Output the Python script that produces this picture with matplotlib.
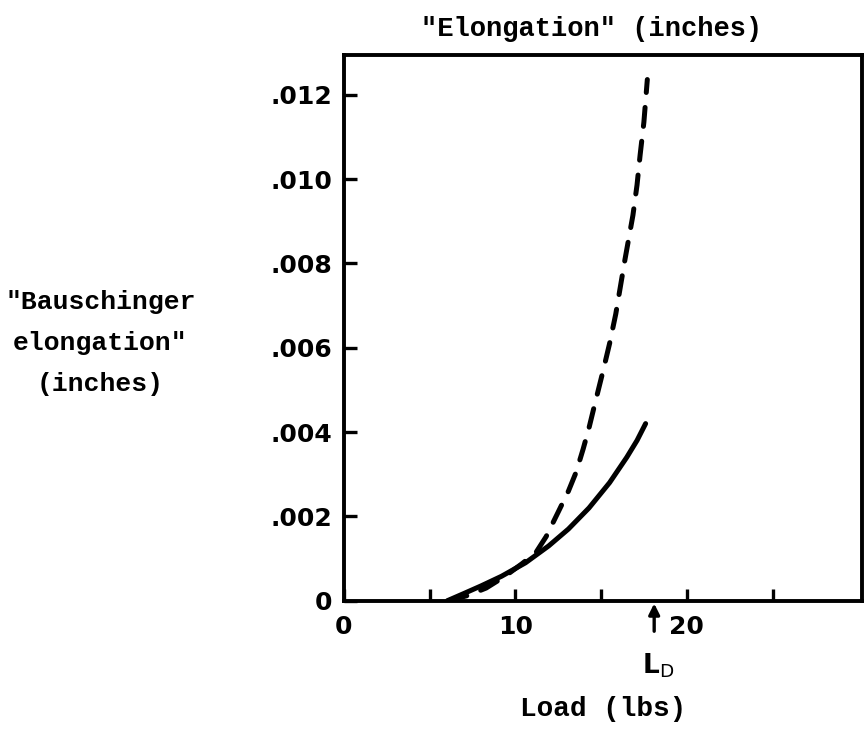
import matplotlib
matplotlib.use("Agg")
import matplotlib.pyplot as plt

# load (lbs) vs elongation (inches)
load_dashed = [6.1, 7.2, 8.3, 9.4, 10.4, 11.2, 11.8, 12.5, 13.1, 13.55, 13.96, 14.3, 14.6,
               15.15, 15.5, 15.86, 16.4, 16.86, 17.1, 17.28, 17.5, 17.7]
elong_dashed = [0.0, 0.00012, 0.00030, 0.00058, 0.00088, 0.00114, 0.00152, 0.0021, 0.0026, 0.00305,
                0.0036, 0.0041, 0.0046, 0.0055, 0.0061, 0.0068, 0.0081, 0.00914, 0.00986, 0.01057,
                0.01135, 0.01236]

load_solid = [6.04, 7.0, 8.0, 9.2, 10.6, 11.95, 13.1, 14.3, 15.5, 16.5, 17.1, 17.6]
elong_solid = [0.0, 0.00017, 0.00035, 0.00058, 0.0009, 0.0013, 0.0017, 0.0022, 0.0028, 0.0034,
               0.0038, 0.0042]

xticks = [0, 5, 10, 15, 20, 25]
xticklabels = ["0", "", "10", "", "20", ""]
yticks = [0, 0.002, 0.004, 0.006, 0.008, 0.010, 0.012]
yticklabels = ["0", ".002", ".004", ".006", ".008", ".010", ".012"]
load_d = 18.1

mono = "Liberation Mono"

fig = plt.figure(figsize=(8.66, 7.29), dpi=100)
ax = fig.add_axes([0.397, 0.176, 0.598, 0.749])

ax.plot(load_solid, elong_solid, color="black", lw=3.6, solid_capstyle="round")
ax.plot(load_dashed, elong_dashed, color="black", lw=3.6, dashes=(3.8, 3.0),
        dash_capstyle="round")

ax.set_xlim(0, 30.2)
ax.set_ylim(0, 0.01295)
ax.set_xticks(xticks)
ax.set_xticklabels(xticklabels)
ax.set_yticks(yticks)
ax.set_yticklabels(yticklabels)
ax.tick_params(direction="in", length=9, width=2.4, labelsize=18, pad=8)
ax.tick_params(axis="x", pad=10)
for lab in ax.get_xticklabels() + ax.get_yticklabels():
    lab.set_fontweight("bold")
for s in ax.spines.values():
    s.set_linewidth(2.8)

ax.annotate("", xy=(load_d, 0), xytext=(0, -24), textcoords="offset points",
            arrowprops=dict(arrowstyle="-|>", color="black", lw=2.4, mutation_scale=16))
ax.annotate(r"L$_\mathrm{D}$", xy=(load_d, 0), xytext=(3, -47), textcoords="offset points",
            ha="center", va="center", fontsize=19, fontweight="bold")

fig.text(0.683, 0.960, '"Elongation" (inches)', ha="center", va="center",
         fontsize=19.5, fontweight="bold", family=mono)
fig.text(0.116, 0.529, '"Bauschinger\nelongation"\n(inches)', ha="center", va="center",
         fontsize=19, fontweight="bold", family=mono, linespacing=1.9)
fig.text(0.696, 0.027, "Load (lbs)", ha="center", va="center",
         fontsize=20, fontweight="bold", family=mono)

fig.savefig("out.png", dpi=100)
